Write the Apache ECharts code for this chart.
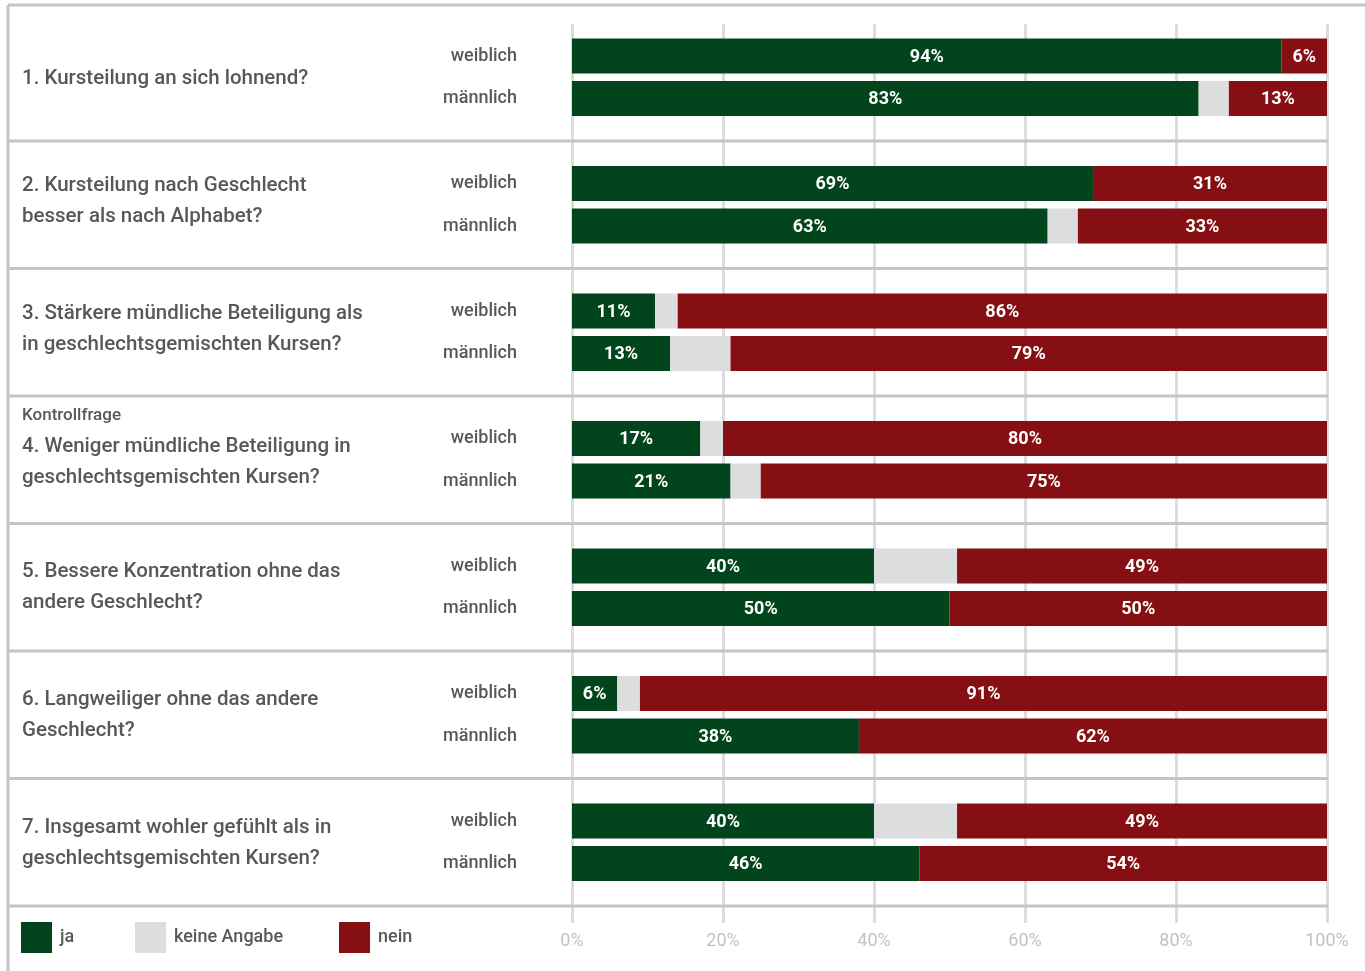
<!DOCTYPE html>
<html>
<head>
<meta charset="utf-8">
<script src="https://cdn.jsdelivr.net/npm/echarts@6/dist/echarts.min.js"></script>
<style>
  html, body { margin: 0; padding: 0; background: #ffffff; }
  #chart { width: 1365px; height: 971px; }
</style>
</head>
<body>
<div id="chart"></div>
<script>
// Survey questions (one group of two bars each)
const questions = [
  '1. Kursteilung an sich lohnend?',
  '2. Kursteilung nach Geschlecht\nbesser als nach Alphabet?',
  '3. Stärkere mündliche Beteiligung als\nin geschlechtsgemischten Kursen?',
  '4. Weniger mündliche Beteiligung in\ngeschlechtsgemischten Kursen?',
  '5. Bessere Konzentration ohne das\nandere Geschlecht?',
  '6. Langweiliger ohne das andere\nGeschlecht?',
  '7. Insgesamt wohler gefühlt als in\ngeschlechtsgemischten Kursen?'
];
const questionNotes = ['', '', '', 'Kontrollfrage', '', '', ''];
const genders = ['weiblich', 'männlich'];

// Shares in percent, ordered question by question: weiblich, männlich
const ja          = [94, 83, 69, 63, 11, 13, 17, 21, 40, 50,  6, 38, 40, 46];
const keineAngabe = [ 0,  4,  0,  4,  3,  8,  3,  4, 11,  0,  3,  0, 11,  0];
const nein        = [ 6, 13, 31, 33, 86, 79, 80, 75, 49, 50, 91, 62, 49, 54];

const xTicks = [0, 20, 40, 60, 80, 100];

// Colours and fonts
const GREEN = '#02441c';
const GREY = '#dcdddf';
const RED = '#850f12';
const FRAME = '#c5c5c9';
const TEXT = '#585858';
const FONT = 'Roboto, "Noto Sans", sans-serif';

// Layout
const W = 1365, H = 971;
const PLOT_LEFT = 572, PLOT_RIGHT = 1327;
const SLOT = 42.5;                  // one category slot (bar or spacer)
const PLOT_TOP = 34.75;             // top of first category slot
const nGroups = questions.length;
const nSlots = nGroups * 3;
const questionShift = [2, -3, -3, 3, 0, 1, 1];   // vertical nudge of each question block

// Category list: weiblich, männlich, spacer per question
const cats = [];
const labelOf = [];
for (let g = 0; g < nGroups; g++) {
  cats.push('w' + g, 'm' + g, 's' + g);
  labelOf.push(genders[0], genders[1], '');
}
function expand(arr) {
  const out = [];
  for (let g = 0; g < nGroups; g++) {
    out.push(arr[2 * g] || '-', arr[2 * g + 1] || '-', '-');
  }
  return out;
}

const chart = echarts.init(document.getElementById('chart'), null, { renderer: 'canvas' });

const barLabel = {
  show: true,
  position: 'inside',
  offset: [0, 1],
  color: '#ffffff',
  fontFamily: FONT,
  fontSize: 18,
  fontWeight: 'bold',
  formatter: p => p.value + '%'
};

// Frame and group separators
const graphics = [];
graphics.push({ type: 'line', shape: { x1: 8, y1: 5, x2: W, y2: 5 },
  style: { stroke: FRAME, lineWidth: 3 }, z: 10 });
graphics.push({ type: 'line', shape: { x1: 8, y1: 5, x2: 8, y2: H },
  style: { stroke: FRAME, lineWidth: 3 }, z: 10 });
for (let g = 0; g < nGroups; g++) {
  const y = PLOT_TOP + (3 * g + 2.5) * SLOT;
  graphics.push({ type: 'line', shape: { x1: 8, y1: y, x2: PLOT_RIGHT + 1, y2: y },
    style: { stroke: FRAME, lineWidth: 3 }, z: 10 });
}
// Question texts
for (let g = 0; g < nGroups; g++) {
  const center = PLOT_TOP + (3 * g + 1) * SLOT;
  graphics.push({
    type: 'text', x: 22, y: center + questionShift[g],
    style: {
      text: questions[g], fill: TEXT, font: '500 20.5px ' + FONT,
      lineHeight: 31, verticalAlign: 'middle', align: 'left'
    }
  });
  if (questionNotes[g]) {
    graphics.push({
      type: 'text', x: 22, y: center - 44,
      style: {
        text: questionNotes[g], fill: TEXT, font: '500 17px ' + FONT,
        verticalAlign: 'middle', align: 'left'
      }
    });
  }
}

const legendBase = {
  orient: 'horizontal', top: 922, padding: 0, itemWidth: 31, itemHeight: 31, icon: 'rect',
  textStyle: { color: TEXT, fontFamily: FONT, fontSize: 18, fontWeight: 500, padding: [4, 0, 0, 3] }
};

chart.setOption({
  backgroundColor: '#ffffff',
  animation: false,
  textStyle: { fontFamily: FONT },
  legend: [
    Object.assign({ left: 21, data: ['ja'] }, legendBase),
    Object.assign({ left: 135, data: ['keine Angabe'] }, legendBase),
    Object.assign({ left: 339, data: ['nein'] }, legendBase)
  ],
  grid: [
    // bars
    { left: PLOT_LEFT, width: PLOT_RIGHT - PLOT_LEFT, top: PLOT_TOP, height: nSlots * SLOT, containLabel: false },
    // vertical gridlines and percent axis
    { left: PLOT_LEFT, width: PLOT_RIGHT - PLOT_LEFT, top: 24, bottom: H - 923, containLabel: false }
  ],
  xAxis: [
    { gridIndex: 0, type: 'value', min: 0, max: 100, show: false },
    {
      gridIndex: 1, type: 'value', min: xTicks[0], max: xTicks[xTicks.length - 1], interval: 20,
      axisLine: { show: false }, axisTick: { show: false },
      splitLine: { show: true, lineStyle: { color: '#dcdcdf', width: 3 } },
      axisLabel: { formatter: '{value}%', color: '#c2c2c6', fontSize: 18, fontFamily: FONT, margin: 9 }
    }
  ],
  yAxis: [
    {
      gridIndex: 0, type: 'category', data: cats, inverse: true,
      axisLine: { show: false }, axisTick: { show: false }, splitLine: { show: false },
      axisLabel: {
        interval: 0, margin: 55, align: 'right', color: TEXT, fontFamily: FONT,
        fontSize: 18, fontWeight: 500, padding: [7, 0, 0, 0],
        formatter: (v, i) => labelOf[i]
      }
    },
    { gridIndex: 1, type: 'value', min: 0, max: 1, show: false }
  ],
  series: [
    { name: 'ja', type: 'bar', stack: 'all', xAxisIndex: 0, yAxisIndex: 0,
      barWidth: 35, itemStyle: { color: GREEN }, label: barLabel, data: expand(ja), z: 3 },
    { name: 'keine Angabe', type: 'bar', stack: 'all', xAxisIndex: 0, yAxisIndex: 0,
      barWidth: 35, itemStyle: { color: GREY }, label: { show: false }, data: expand(keineAngabe), z: 3 },
    { name: 'nein', type: 'bar', stack: 'all', xAxisIndex: 0, yAxisIndex: 0,
      barWidth: 35, itemStyle: { color: RED }, label: barLabel, data: expand(nein), z: 3 }
  ],
  graphic: graphics
});
</script>
</body>
</html>
